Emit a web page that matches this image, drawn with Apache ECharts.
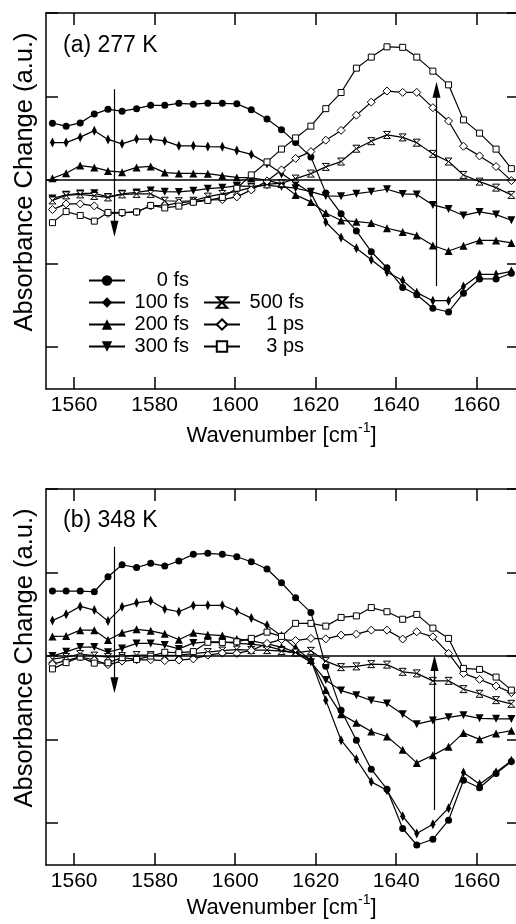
<!DOCTYPE html>
<html><head><meta charset="utf-8">
<script src="https://cdn.jsdelivr.net/npm/echarts@6/dist/echarts.min.js"></script>
<style>html,body{margin:0;padding:0;background:#fff}#c{width:516px;height:924px}</style>
</head><body><div id="c"></div>
<script>
// ---------- data ----------
const wavenumbers = [1554.6,1558.0,1561.5,1565.0,1568.4,1571.9,1575.5,1579.0,1582.5,1586.0,1589.6,1593.2,1596.8,1600.4,1604.0,1607.9,1611.5,1615.0,1618.8,1622.5,1626.3,1630.1,1633.8,1637.7,1641.6,1645.1,1649.1,1653.0,1656.7,1660.7,1664.8,1668.6];
const seriesNames = ['0 fs','100 fs','200 fs','300 fs','500 fs','1 ps','3 ps'];
const xTicks = [1560,1580,1600,1620,1640,1660];
const yTicks = [-2,-1,0,1,2];
const panelTitles = ['(a) 277 K','(b) 348 K'];

// panel (a) 277 K
const a_0fs   = [0.681,0.646,0.685,0.790,0.847,0.825,0.855,0.895,0.895,0.919,0.909,0.921,0.919,0.913,0.841,0.731,0.604,0.451,0.278,-0.153,-0.402,-0.608,-0.857,-1.049,-1.285,-1.372,-1.534,-1.578,-1.354,-1.183,-1.183,-1.115];
const a_100fs = [0.449,0.449,0.514,0.592,0.487,0.434,0.491,0.491,0.469,0.410,0.410,0.401,0.398,0.353,0.308,0.200,0.080,-0.034,-0.153,-0.501,-0.686,-0.816,-0.952,-1.099,-1.201,-1.347,-1.443,-1.443,-1.273,-1.129,-1.129,-1.093];
const a_200fs = [0.023,0.083,0.174,0.152,0.110,0.095,0.152,0.164,0.090,0.080,0.080,0.077,0.053,0.032,0.026,-0.004,-0.046,-0.177,-0.261,-0.393,-0.483,-0.497,-0.513,-0.576,-0.620,-0.662,-0.782,-0.848,-0.786,-0.722,-0.722,-0.752];
const a_300fs = [-0.219,-0.175,-0.159,-0.157,-0.201,-0.163,-0.147,-0.123,-0.138,-0.141,-0.126,-0.102,-0.091,-0.069,-0.075,-0.063,-0.079,-0.097,-0.138,-0.189,-0.193,-0.162,-0.139,-0.109,-0.165,-0.171,-0.297,-0.345,-0.423,-0.381,-0.413,-0.480];
const a_500fs = [-0.243,-0.183,-0.171,-0.189,-0.207,-0.171,-0.165,-0.165,-0.247,-0.253,-0.247,-0.198,-0.165,-0.135,-0.087,-0.051,-0.037,0.018,0.078,0.158,0.222,0.376,0.466,0.541,0.511,0.448,0.314,0.222,0.062,-0.018,-0.090,-0.177];
const a_1ps   = [-0.353,-0.285,-0.285,-0.309,-0.399,-0.393,-0.381,-0.309,-0.303,-0.273,-0.255,-0.237,-0.234,-0.201,-0.117,-0.010,0.122,0.260,0.341,0.478,0.595,0.777,0.933,1.066,1.050,1.050,0.867,0.707,0.406,0.290,0.162,-0.006];
const a_3ps   = [-0.509,-0.377,-0.423,-0.491,-0.387,-0.389,-0.381,-0.303,-0.333,-0.311,-0.265,-0.243,-0.207,-0.097,0.062,0.218,0.371,0.505,0.646,0.855,1.048,1.340,1.472,1.595,1.589,1.472,1.304,1.140,0.721,0.562,0.371,0.137];

// panel (b) 348 K
const b_0fs   = [0.778,0.778,0.778,0.770,0.950,1.093,1.060,1.110,1.078,1.138,1.218,1.230,1.218,1.189,1.129,1.042,0.878,0.697,0.523,-0.120,-0.647,-1.006,-1.353,-1.593,-2.063,-2.260,-2.192,-1.964,-1.485,-1.575,-1.405,-1.261];
const b_100fs = [0.425,0.501,0.595,0.551,0.419,0.590,0.638,0.662,0.565,0.531,0.607,0.608,0.608,0.537,0.455,0.368,0.242,0.096,-0.048,-0.527,-1.006,-1.234,-1.505,-1.605,-1.916,-2.123,-2.012,-1.820,-1.392,-1.533,-1.389,-1.251];
const b_200fs = [0.236,0.240,0.311,0.311,0.192,0.279,0.320,0.303,0.267,0.195,0.279,0.257,0.246,0.206,0.182,0.146,0.108,0.048,-0.048,-0.407,-0.695,-0.799,-0.902,-0.962,-1.122,-1.278,-1.186,-1.086,-0.919,-0.996,-0.926,-0.892];
const b_300fs = [0.000,0.051,0.108,0.108,0.046,0.092,0.152,0.152,0.132,0.086,0.156,0.171,0.171,0.152,0.144,0.120,0.072,0.036,-0.072,-0.287,-0.413,-0.467,-0.531,-0.566,-0.695,-0.814,-0.770,-0.733,-0.707,-0.745,-0.751,-0.752];
const b_500fs = [-0.036,-0.012,0.024,0.006,-0.012,0.000,0.012,0.012,0.006,0.012,0.030,0.048,0.066,0.078,0.072,0.072,0.060,0.042,0.063,-0.060,-0.132,-0.123,-0.096,-0.102,-0.188,-0.207,-0.296,-0.296,-0.395,-0.451,-0.527,-0.571];
const b_1ps   = [-0.096,-0.054,-0.008,-0.048,-0.102,-0.060,-0.044,-0.044,-0.054,-0.048,-0.034,0.012,0.036,0.032,0.068,0.152,0.198,0.186,0.212,0.207,0.251,0.263,0.311,0.311,0.204,0.291,0.231,0.032,-0.207,-0.278,-0.357,-0.437];
const b_3ps   = [-0.153,-0.078,-0.012,-0.084,-0.080,-0.018,-0.040,0.000,0.046,0.042,0.054,0.165,0.162,0.171,0.212,0.287,0.236,0.392,0.392,0.359,0.463,0.481,0.581,0.531,0.441,0.499,0.335,0.212,-0.147,-0.159,-0.251,-0.407];

// arrows: [x, from, to] per panel (down arrow, up arrow)
const arrowsA = [[1570, 1.087, -0.582], [1650, -1.268, 1.082]];
const arrowsB = [[1570, 1.309, -0.350], [1649.5, -1.842, -0.083]];

// ---------- chart ----------
const FONT = "'Liberation Sans', Arial, Helvetica, sans-serif";
const panelSeries = [
  [a_0fs, a_100fs, a_200fs, a_300fs, a_500fs, a_1ps, a_3ps],
  [b_0fs, b_100fs, b_200fs, b_300fs, b_500fs, b_1ps, b_3ps]
];
const panelArrows = [arrowsA, arrowsB];
const marker = [
  {symbol:'circle', size:7, fill:'#000'},
  {symbol:'diamond', size:[5,10], fill:'#000'},
  {symbol:'triangle', size:8, fill:'#000'},
  {symbol:'path://M0,0L10,0L5,10Z', size:8, fill:'#000'},
  {symbol:'path://M0,0L10,0L0,10L10,10Z', size:7, fill:'#fff'},
  {symbol:'diamond', size:8, fill:'#fff'},
  {symbol:'rect', size:6, fill:'#fff'}
];
const gridTops = [13, 489];
const nameGaps = [32, 26];

const grids = [], xAxes = [], yAxes = [], series = [], titles = [];
const black = '#000';
for (let p = 0; p < 2; p++) {
  grids.push({left:46, top:gridTops[p], width:471, height:376, outerBoundsMode:'none', containLabel:false});
  const common = {gridIndex:p, type:'value', splitLine:{show:false}};
  xAxes.push(Object.assign({}, common, {
    position:'bottom', min:1553, max:1670,
    axisLine:{onZero:false, lineStyle:{color:black, width:1.5}},
    axisTick:{inside:true, length:12, customValues:xTicks, lineStyle:{color:black, width:1.5}},
    axisLabel:{customValues:xTicks, formatter:v => String(v), color:black, fontSize:21, margin:6, fontFamily:FONT},
    name:'{m|Wavenumber [cm}{s|-1}{m|]}', nameLocation:'middle', nameGap:nameGaps[p],
    nameTextStyle:{color:black, fontFamily:FONT, rich:{
      m:{fontSize:22, lineHeight:30, color:black, fontFamily:FONT},
      s:{fontSize:14, lineHeight:14, verticalAlign:'top', color:black, fontFamily:FONT}
    }}
  }));
  xAxes.push(Object.assign({}, common, {
    position:'top', min:1553, max:1670,
    axisLine:{onZero:false, lineStyle:{color:black, width:1.5}},
    axisTick:{inside:true, length:12, customValues:xTicks, lineStyle:{color:black, width:1.5}},
    axisLabel:{show:false}
  }));
  yAxes.push(Object.assign({}, common, {
    position:'left', min:-2.5, max:2,
    axisLine:{onZero:false, lineStyle:{color:black, width:1.5}},
    axisTick:{inside:true, length:12, customValues:yTicks, lineStyle:{color:black, width:1.5}},
    axisLabel:{show:false},
    name:'Absorbance Change (a.u.)', nameLocation:'middle', nameGap:8,
    nameTextStyle:{color:black, fontSize:25.5, fontFamily:FONT, padding:[0,0,0,38]}
  }));
  yAxes.push(Object.assign({}, common, {
    position:'right', min:-2.5, max:2,
    axisLine:{onZero:false, lineStyle:{color:black, width:1.5}},
    axisTick:{inside:true, length:10, customValues:yTicks, lineStyle:{color:black, width:1.5}},
    axisLabel:{show:false}
  }));
  titles.push({text:panelTitles[p], left:63, top:[34.5,509.5][p], padding:0,
    textStyle:{fontSize:23, fontWeight:'normal', color:black, fontFamily:FONT}});

  panelSeries[p].forEach((vals, k) => {
    const m = marker[k];
    const s = {
      type:'line', name:seriesNames[k], xAxisIndex:p*2, yAxisIndex:p*2,
      data: wavenumbers.map((x, i) => [x, vals[i]]),
      symbol:m.symbol, symbolSize:m.size, showSymbol:true,
      lineStyle:{color:black, width:1.2},
      itemStyle:{color:m.fill, borderColor:black, borderWidth: m.fill === '#fff' ? 1 : 0},
      emphasis:{disabled:true}, silent:true, z: 3
    };
    if (k === 0) {
      const arr = panelArrows[p];
      s.markLine = {
        silent:true, animation:false, label:{show:false},
        symbol:['none','none'],
        lineStyle:{color:black, width:1.5, type:'solid'},
        emphasis:{disabled:true},
        data:[
          [{coord:[1553, 0], symbol:'none'}, {coord:[1670, 0], symbol:'none'}],
          [{coord:[arr[0][0], arr[0][1]], symbol:'none'}, {coord:[arr[0][0], arr[0][2]], symbol:'triangle', symbolSize:[8,16], lineStyle:{width:1.2}}],
          [{coord:[arr[1][0], arr[1][1]], symbol:'none'}, {coord:[arr[1][0], arr[1][2]], symbol:'triangle', symbolSize:[8,16], lineStyle:{width:1.2}}]
        ]
      };
    }
    series.push(s);
  });
}

const legendText = {fontSize:20, color:black, fontFamily:FONT,
  rich:{t:{width:59, align:'right', fontSize:20, lineHeight:22, color:black, fontFamily:FONT}}};
const option = {
  animation:false,
  backgroundColor:'#fff',
  title:titles,
  grid:grids, xAxis:xAxes, yAxis:yAxes, series:series,
  legend:[
    {data:seriesNames.slice(0,4), orient:'vertical', left:88, top:270.5, itemWidth:36, itemHeight:13, itemGap:2, padding:0,
     selectedMode:false, formatter:n => '{t|' + n + '}', textStyle:legendText},
    {data:seriesNames.slice(4), orient:'vertical', left:203, top:292.5, itemWidth:36, itemHeight:13, itemGap:2, padding:0,
     selectedMode:false, formatter:n => '{t|' + n + '}', textStyle:legendText}
  ]
};
const chart = echarts.init(document.getElementById('c'), null, {renderer:'canvas'});
chart.setOption(option);
</script>
</body></html>
